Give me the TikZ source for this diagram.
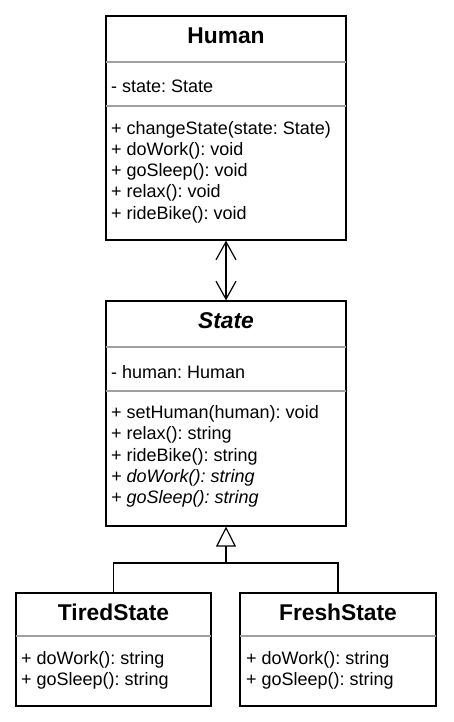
\documentclass[tikz,border=0pt]{standalone}
\usepackage{fontspec}
\setmainfont{Liberation Sans}
\frenchspacing
\definecolor{SepGray}{HTML}{A0A0A0}
\usetikzlibrary{arrows.meta,positioning}

\tikzset{
  classbox/.style={draw=black, line width=1.2pt, fill=none, rectangle, inner sep=0pt},
  sepline/.style={draw=SepGray, line width=1.2pt, shorten <=0.6pt, shorten >=0.6pt},
  classname/.style={font=\fontsize{22.8}{26}\selectfont\bfseries, inner sep=0pt},
  members/.style={font=\fontsize{18}{21.2}\selectfont, align=left, anchor=west, inner sep=0pt},
  link/.style={draw=black, line width=1.2pt}
}

\begin{document}
\begin{tikzpicture}[x=1pt, y=-1pt]
  \useasboundingbox (0,0) rectangle (453,722);

  \node[classbox, minimum width=240pt, minimum height=224pt] (human) at (226,128) {};
  \node[classbox, minimum width=240pt, minimum height=225pt] (state) at (226,413.5) {};
  \node[classbox, minimum width=195pt, minimum height=113pt] (tired) at (113.5,649.5) {};
  \node[classbox, minimum width=196pt, minimum height=113pt] (fresh) at (338,649.5) {};

  \draw[sepline] (human.west |- 0,62) -- (human.east |- 0,62);
  \draw[sepline] (human.west |- 0,106) -- (human.east |- 0,106);
  \draw[sepline] (state.west |- 0,347) -- (state.east |- 0,347);
  \draw[sepline] (state.west |- 0,391) -- (state.east |- 0,391);
  \draw[sepline] (tired.west |- 0,636) -- (tired.east |- 0,636);
  \draw[sepline] (fresh.west |- 0,636) -- (fresh.east |- 0,636);

  \node[classname] (humanName) at (226,36) {Human};
  \node[members] (humanAttr) at (111,86) {- state: State};
  \node[members] (humanOps) at (111,172) {%
    + changeState(state: State)\\
    + doWork(): void\\
    + goSleep(): void\\
    + relax(): void\\
    + rideBike(): void};

  \node[classname, font=\fontsize{22.8}{26}\selectfont\bfseries\itshape] (stateName) at (226,321) {State};
  \node[members] (stateAttr) at (111,372) {- human: Human};
  \node[members] (stateOps) at (111,456.5) {%
    + setHuman(human): void\\
    + relax(): string\\
    + rideBike(): string\\
    \textit{+ doWork(): string}\\
    \textit{+ goSleep(): string}};

  \node[classname] (tiredName) at (113.5,612) {TiredState};
  \node[members] (tiredOps) at (21,670) {%
    + doWork(): string\\
    + goSleep(): string};

  \node[classname] (freshName) at (338,612) {FreshState};
  \node[members] (freshOps) at (246,670) {%
    + doWork(): string\\
    + goSleep(): string};

  \draw[link, {Straight Barb[length=18pt, width=20pt]}-{Straight Barb[length=18pt, width=20pt]}]
    (human.south) -- (state.north);

  \coordinate (join) at (226,563);
  \draw[link] (tired.north) |- (join) -| (fresh.north);
  \draw[link, -{Triangle[open, fill=white, length=20pt, width=20pt]}] (join) -- (state.south);
\end{tikzpicture}
\end{document}
